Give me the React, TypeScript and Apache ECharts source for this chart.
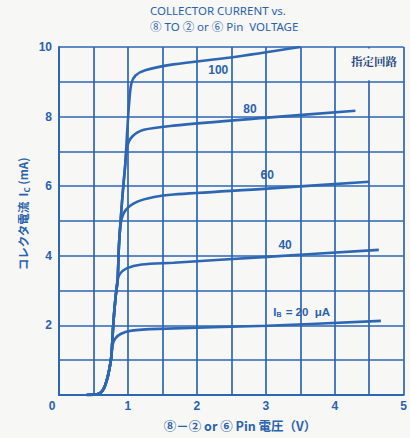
import React, { useEffect, useRef } from "react";
import * as echarts from "echarts";

const titleLines = ["COLLECTOR CURRENT vs.", "⑧ TO ② or ⑥ Pin  VOLTAGE"];
const xAxisTitle = "⑧－② or ⑥ Pin 電圧（V）";
const yAxisTitleMain = "コレクタ電流  I";
const yAxisTitleSub = "C";
const yAxisTitleUnit = " (mA)";
const boxNote = "指定回路";

const xTicks = [0, 1, 2, 3, 4, 5];
const yTicks = [2, 4, 6, 8, 10];

// shared rising part (V, mA)
const rise: number[][] = [
  [0.4, 0], [0.5, 0.01], [0.58, 0.04], [0.63, 0.12], [0.67, 0.28],
  [0.71, 0.55], [0.74, 0.85], [0.76, 1.12],
];
const riseUpper: number[][] = [
  [0.79, 2.1], [0.82, 2.8], [0.85, 3.3],
];
const riseUpper2: number[][] = [[0.87, 4.3]];
const riseUpper3: number[][] = [[0.92, 5.7], [0.96, 6.6]];
const riseUpper4: number[][] = [[0.99, 7.6], [1.02, 8.45]];

const ib20: number[][] = [
  [0.78, 1.45], [0.82, 1.63], [0.9, 1.76], [1.05, 1.85], [1.45, 1.9],
  [3.02, 1.99], [4.67, 2.13],
];
const ib40: number[][] = [
  [0.88, 3.47], [0.98, 3.64], [1.2, 3.75], [1.66, 3.8], [3.02, 3.97], [4.64, 4.17],
];
const ib60: number[][] = [
  [0.9, 4.98], [0.97, 5.32], [1.13, 5.55], [1.38, 5.69], [1.66, 5.76], [3.02, 5.93], [4.5, 6.13],
];
const ib80: number[][] = [
  [0.99, 7.14], [1.06, 7.42], [1.23, 7.62], [1.66, 7.74], [3.02, 7.97], [4.3, 8.17],
];
const ib100: number[][] = [
  [1.05, 8.95], [1.11, 9.18], [1.25, 9.33], [1.66, 9.5], [2.49, 9.7], [3.5, 10.0],
];

// annotation positions in data coordinates
const curveLabels: { text: string; at: number[] }[] = [
  { text: "100", at: [2.31, 9.34] },
  { text: "80", at: [2.77, 8.22] },
  { text: "60", at: [3.02, 6.32] },
  { text: "40", at: [3.28, 4.31] },
];
const ibLabelAt = [3.52, 2.39];

const BLUE = "#2d66b3";
const TEXT = "#2a62ad";
const BG = "#f7f7f5";

const L = 59, R = 408, T = 47, B = 395;

export default function App() {
  const ref = useRef<HTMLDivElement>(null);
  useEffect(() => {
    if (!ref.current) return;
    const chart = echarts.init(ref.current, undefined, { renderer: "svg" });
    const mk = (pts: number[][]) => ({
      type: "line",
      data: pts,
      showSymbol: false,
      smooth: 0.3,
      lineStyle: { color: BLUE, width: 2.6 },
      silent: true,
    });
    const series = [
      mk([...rise, ...ib20]),
      mk([...rise, ...riseUpper, ...ib40]),
      mk([...rise, ...riseUpper, ...riseUpper2, ...ib60]),
      mk([...rise, ...riseUpper, ...riseUpper2, ...riseUpper3, ...ib80]),
      mk([...rise, ...riseUpper, ...riseUpper2, ...riseUpper3, ...riseUpper4, ...ib100]),
    ];
    const axisFont = { color: TEXT, fontSize: 12, fontWeight: "bold", fontFamily: "Liberation Sans" };
    chart.setOption({
      animation: false,
      backgroundColor: BG,
      grid: { left: L, right: 410 - R, top: T, bottom: 438 - B },
      xAxis: {
        type: "value",
        min: 0,
        max: 5,
        interval: 0.5,
        axisLine: { show: true, lineStyle: { color: BLUE, width: 2 } },
        axisTick: { show: false },
        splitLine: { show: true, lineStyle: { color: BLUE, width: 1.7 } },
        axisLabel: {
          ...axisFont,
          margin: 5,
          showMaxLabel: true,
          formatter: (v: number) =>
            xTicks.includes(v) ? (v === 0 ? "{z|0}" : String(v)) : "",
          rich: { z: { ...axisFont, padding: [0, 14, 0, 0] } },
        },
      },
      yAxis: {
        type: "value",
        min: 0,
        max: 10,
        interval: 1,
        axisLine: { show: true, lineStyle: { color: BLUE, width: 2 } },
        axisTick: { show: false },
        splitLine: { show: true, lineStyle: { color: BLUE, width: 1.7 } },
        axisLabel: {
          ...axisFont,
          margin: 7,
          formatter: (v: number) => (yTicks.includes(v) ? String(v) : ""),
        },
      },
      series,
    });

    const px = (p: number[]) => chart.convertToPixel({ gridIndex: 0 }, p) as number[];
    const g45 = px([4.5, 9]);
    const labelFont = { fill: TEXT, fontSize: 12, fontWeight: "bold", fontFamily: "Liberation Sans" };
    const graphics: any[] = [
      {
        type: "rect",
        shape: { x: g45[0] - 2, y: T + 1.5, width: 4, height: g45[1] - T - 3 },
        style: { fill: BG },
        silent: true,
        z: 10,
      },
      {
        type: "text",
        x: 150,
        y: 10,
        style: {
          text: titleLines[0], fill: TEXT, fontSize: 11.5,
          fontFamily: "Noto Sans", verticalAlign: "middle",
        },
      },
      {
        type: "text",
        x: 150,
        y: 26,
        style: {
          text: titleLines[1], fill: TEXT, fontSize: 11.5,
          fontFamily: "Noto Sans, Noto Sans CJK JP", verticalAlign: "middle",
        },
      },
      {
        type: "text",
        x: 240,
        y: 425,
        style: {
          text: xAxisTitle, ...labelFont, fontSize: 12.5, fontFamily: "Noto Sans CJK JP",
          align: "center", verticalAlign: "middle",
        },
      },
      {
        type: "text",
        x: 23,
        y: 214,
        rotation: Math.PI / 2,
        style: {
          text: `{a|${yAxisTitleMain}}{s|${yAxisTitleSub}}{a|${yAxisTitleUnit}}`,
          align: "center",
          verticalAlign: "middle",
          rich: {
            a: { fill: TEXT, fontSize: 11.5, fontWeight: "bold", fontFamily: "Noto Sans CJK JP" },
            s: { fill: TEXT, fontSize: 8, fontWeight: "bold", fontFamily: "Noto Sans CJK JP", padding: [6, 0, 0, 0] },
          },
        },
      },
      {
        type: "text",
        x: 374,
        y: 61,
        style: {
          text: boxNote, fill: "#24467e", fontSize: 11.5, fontWeight: "bold",
          fontFamily: "Noto Serif CJK JP, Noto Sans CJK JP",
          align: "center", verticalAlign: "middle",
        },
        z: 11,
      },
    ];
    curveLabels.forEach((c) => {
      const p = px(c.at);
      graphics.push({
        type: "text", x: p[0], y: p[1],
        style: { text: c.text, ...labelFont, align: "center", verticalAlign: "middle" },
        z: 11,
      });
    });
    const ib = px(ibLabelAt);
    graphics.push({
      type: "text", x: ib[0], y: ib[1],
      style: {
        text: "{a|I}{s|B}{a| = 20  μA}",
        align: "center", verticalAlign: "middle",
        rich: {
          a: { ...labelFont, fontSize: 11.5 },
          s: { ...labelFont, fontSize: 7, padding: [5, 1, 0, 0] },
        },
      },
      z: 11,
    });
    chart.setOption({ graphic: graphics });
    return () => chart.dispose();
  }, []);
  return <div ref={ref} style={{ width: 410, height: 438, position: "absolute", left: 0, top: 0 }} />;
}
